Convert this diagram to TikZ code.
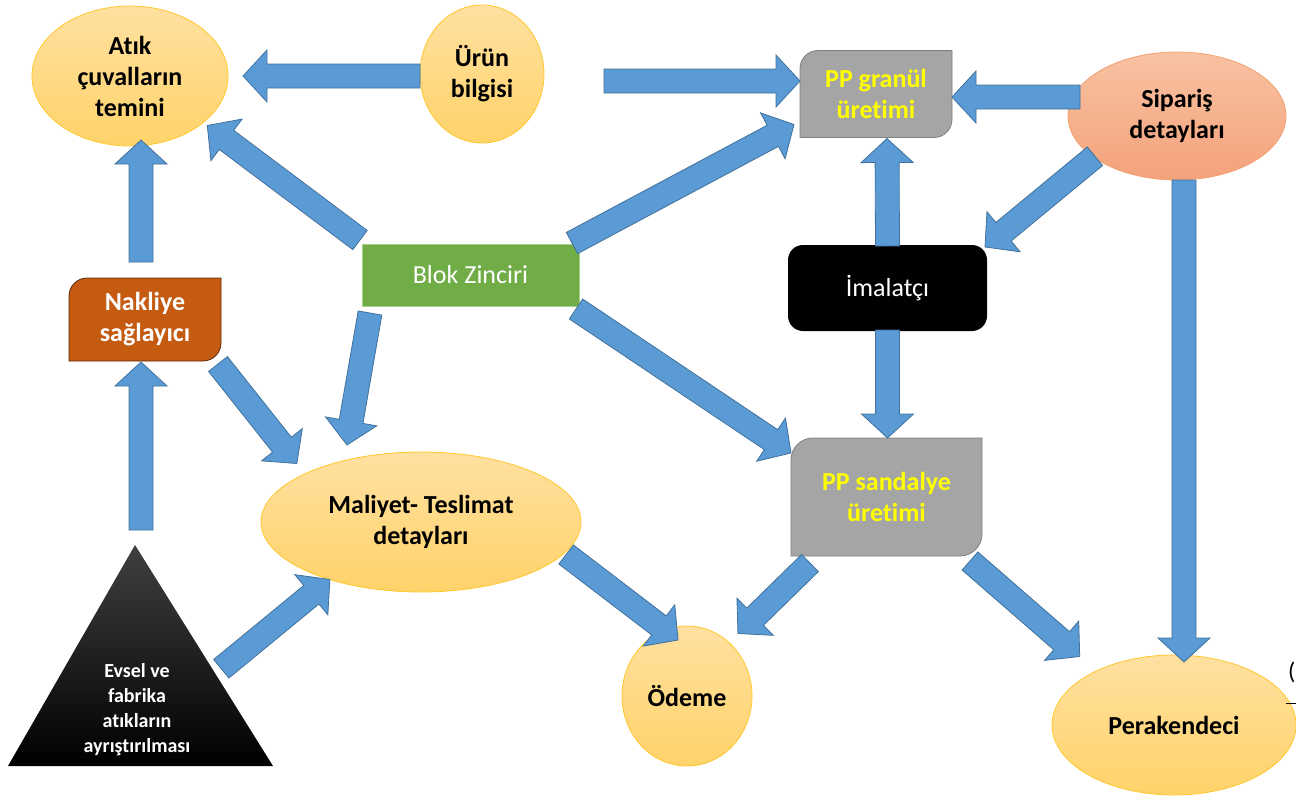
\documentclass[tikz,border=0pt]{standalone}
\usepackage{fontspec}
\setmainfont{Carlito}[Ligatures=NoCommon]
\usetikzlibrary{shapes.geometric,calc,backgrounds}

\definecolor{arrowfill}{HTML}{5B9BD5}
\definecolor{arrowline}{HTML}{41719C}
\definecolor{ovaltop}{HTML}{FFE0A0}
\definecolor{ovalbot}{HTML}{FFD36A}
\definecolor{ovalline}{HTML}{FFC72C}
\definecolor{salmontop}{HTML}{F8C2A2}
\definecolor{salmonbot}{HTML}{F4A27B}
\definecolor{salmonline}{HTML}{F4A070}
\definecolor{procgray}{HTML}{A5A5A5}
\definecolor{procline}{HTML}{7F7F7F}
\definecolor{rust}{HTML}{C55A11}
\definecolor{rustline}{HTML}{5A2A08}
\definecolor{chaingreen}{HTML}{70AD47}
\definecolor{chainline}{HTML}{A9D18E}
\definecolor{labelyellow}{HTML}{FFFF00}

\tikzset{
  bigtext/.style={font=\bfseries\fontsize{26}{31}\selectfont, align=center},
  plaintext/.style={font=\fontsize{26}{31}\selectfont, align=center},
  oval/.style={ellipse, draw=ovalline, line width=0.8pt, top color=ovaltop,
    bottom color=ovalbot, inner sep=0pt, outer sep=0pt, bigtext},
  boxarea/.style={inner sep=0pt, outer sep=0pt},
  barrow/.style={fill=arrowfill, draw=arrowline, line width=0.8pt, line join=miter},
}

% block arrow from tail #1 to tip #2
\newcommand\blockarrow[2]{%
  \coordinate (ba-a) at (#1);
  \coordinate (ba-b) at (#2);
  \coordinate (ba-h) at ($(ba-b)!24pt!(ba-a)$);
  \draw[barrow] ($(ba-a)!12pt!90:(ba-b)$) -- ($(ba-h)!12pt!90:(ba-b)$)
    -- ($(ba-h)!26pt!90:(ba-b)$) -- (ba-b) -- ($(ba-h)!26pt!-90:(ba-b)$)
    -- ($(ba-h)!12pt!-90:(ba-b)$) -- ($(ba-a)!12pt!-90:(ba-b)$) -- cycle;}

% box with rounded top-left and bottom-right corners around node #1
\newcommand\diagcornerbox[3]{%
  \draw[#3] (#1.south west) -- ($(#1.north west)+(0,#2)$)
    .. controls ($(#1.north west)+(0,0.45*#2)$) and ($(#1.north west)+(0.45*#2,0)$)
    .. ($(#1.north west)+(#2,0)$)
    -- (#1.north east) -- ($(#1.south east)+(0,-#2)$)
    .. controls ($(#1.south east)+(0,-0.45*#2)$) and ($(#1.south east)+(-0.45*#2,0)$)
    .. ($(#1.south east)+(-#2,0)$) -- cycle;}

\begin{document}
\begin{tikzpicture}[x=1pt, y=-1pt]
\useasboundingbox (0,0) rectangle (1296,798);

% ovals
\node[oval, minimum width=196pt, minimum height=140pt] (atik) at (130,76)
  {Atık\\çuvalların\\temini};
\node[oval, minimum width=124pt, minimum height=138pt] (urun) at (482,74)
  {Ürün\\bilgisi};
\node[oval, draw=salmonline, top color=salmontop, bottom color=salmonbot,
  minimum width=218pt, minimum height=128pt] (siparis) at (1177,116)
  {Sipariş\\detayları};
\node[oval, minimum width=320pt, minimum height=140pt] (maliyet) at (421,522)
  {Maliyet- Teslimat\\detayları};
\node[oval, minimum width=130pt, minimum height=140pt] (odeme) at (687,696)
  {Ödeme};
\node[oval, minimum width=244pt, minimum height=140pt] (perak) at (1174,725)
  {Perakendeci};

% boxes
\node[boxarea, bigtext, text=labelyellow, minimum width=152pt, minimum height=87pt]
  (granul) at (876,94) {PP granül\\üretimi};
\node[boxarea, bigtext, text=white, minimum width=152pt, minimum height=83pt]
  (nakliye) at (145,319.5) {Nakliye\\sağlayıcı};
\node[boxarea, bigtext, text=labelyellow, minimum width=191pt, minimum height=118pt]
  (sandalye) at (886.5,497) {PP sandalye\\üretimi};
\node[boxarea, plaintext, text=white, fill=chaingreen, draw=chainline, line width=0.8pt,
  minimum width=217pt, minimum height=62pt] (blok) at (470.5,275) {Blok Zinciri};
\node[boxarea, plaintext, text=white, fill=black, rounded corners=15pt,
  minimum width=199pt, minimum height=86pt] (imalat) at (887.5,288) {İmalatçı};

% waste-sorting pyramid
\coordinate (tri-apex) at (135,545);
\coordinate (tri-bl) at (8,766);
\coordinate (tri-br) at (273,766);
\node[boxarea, font=\bfseries\fontsize{20}{25}\selectfont, align=center, text=white]
  (evsel) at (137,710) {Evsel ve\\fabrika\\atıkların\\ayrıştırılması};

\begin{scope}[on background layer]
  \diagcornerbox{granul}{18}{fill=procgray, draw=procline, line width=0.8pt}
  \diagcornerbox{nakliye}{18}{fill=rust, draw=rustline, line width=0.8pt}
  \diagcornerbox{sandalye}{22}{fill=procgray, draw=procline, line width=0.8pt}
  \shade[top color=black!75, bottom color=black] (tri-apex) -- (tri-br) -- (tri-bl) -- cycle;
\end{scope}

% connectors
\blockarrow{$(urun.west)+(0,2)$}{$(atik.east)+(15,0)$}
\blockarrow{$(urun.east)+(60,7)$}{$(granul.west)+(0,-13)$}
\blockarrow{$(siparis.west)+(12,-19)$}{$(granul.east)+(0,3)$}
\blockarrow{$(blok.north west)+(-2,-4)$}{$(atik.south east)+(8,0)$}
\blockarrow{$(blok.north east)+(-7,-1)$}{$(granul.south west)+(-6,-13)$}
\blockarrow{$(blok.south west)+(8,7)$}{$(maliyet.north)+(-74,-7)$}
\blockarrow{$(blok.south east)+(-3,3)$}{$(sandalye.north west)+(0,15)$}
\blockarrow{$(nakliye.north)+(-4,-16)$}{$(atik.south)+(11,-6)$}
\blockarrow{$(tri-apex)+(6,-15)$}{$(nakliye.south)+(-4,1)$}
\blockarrow{$(nakliye.south east)+(-3,3)$}{$(maliyet.north west)+(-11,-9)$}
\blockarrow{$(tri-apex)!0.56!(tri-br)+(9,0)$}{$(maliyet.south west)+(22,8)$}
\blockarrow{$(imalat.north)+(0,1)$}{$(granul.south)+(11,1)$}
\blockarrow{$(imalat.south)+(0,-1)$}{$(sandalye.north)+(1,0)$}
\blockarrow{$(siparis.south west)+(-5,-5)$}{$(imalat.north east)+(-2,2)$}
\blockarrow{$(siparis.south)+(7,0)$}{$(perak.north)+(10,7)$}
\blockarrow{$(maliyet.south east)+(32,-17)$}{$(odeme.north west)+(37,-6.5)$}
\blockarrow{$(sandalye.south west)+(19,7)$}{$(odeme.north east)+(5,-13)$}
\blockarrow{$(sandalye.south east)+(-12,5)$}{$(perak.north west)+(-8,-19)$}

% cut-off mark at the right edge
\node[anchor=west, inner sep=0pt, font=\fontsize{24}{26}\selectfont] (edgemark) at (1288,672) {(};
\draw[line width=1pt] (1286,703) -- (1296,703);
\end{tikzpicture}
\end{document}
